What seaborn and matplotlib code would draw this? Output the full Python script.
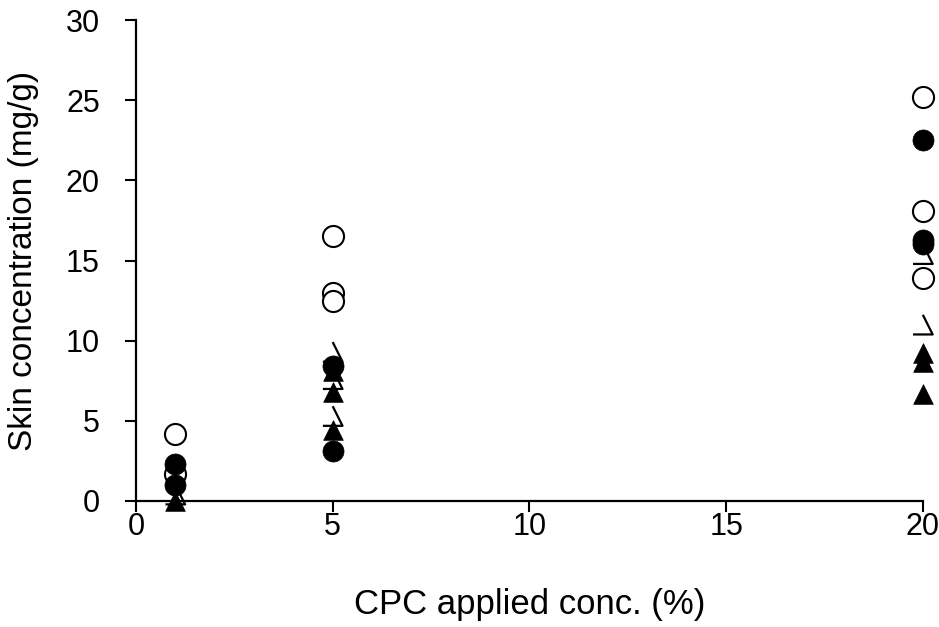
import numpy as np
import pandas as pd
import matplotlib
matplotlib.use("Agg")
import matplotlib.pyplot as plt
from matplotlib.path import Path
import seaborn as sns

# Applied CPC concentration (%) and measured skin concentration (mg/g)
open_circle_x = [1, 1, 5, 5, 5, 20, 20, 20]
open_circle_y = [4.2, 1.7, 16.5, 13.0, 12.5, 25.2, 18.1, 13.9]

filled_circle_x = [1, 1, 5, 5, 20, 20, 20]
filled_circle_y = [2.3, 1.0, 8.4, 3.1, 22.5, 16.3, 16.0]

open_triangle_x = [1, 5, 5, 5, 20, 20]
open_triangle_y = [0.4, 9.3, 7.6, 5.3, 15.4, 11.0]

filled_triangle_x = [1, 5, 5, 5, 20, 20, 20]
filled_triangle_y = [0.0, 8.1, 6.8, 4.4, 9.2, 8.7, 6.7]

x_ticks = [0, 5, 10, 15, 20]
y_ticks = [0, 5, 10, 15, 20, 25, 30]

frames = []
for name, xs, ys in [
    ("open_triangle", open_triangle_x, open_triangle_y),
    ("open_circle", open_circle_x, open_circle_y),
    ("filled_triangle", filled_triangle_x, filled_triangle_y),
    ("filled_circle", filled_circle_x, filled_circle_y),
]:
    frames.append(pd.DataFrame({"conc": xs, "skin": ys, "group": name}))
data = pd.concat(frames, ignore_index=True)

sns.set_theme(style="white")
plt.rcParams["font.family"] = ["Liberation Sans", "DejaVu Sans"]

fig = plt.figure(figsize=(9.39, 6.27), dpi=100)
ax = fig.add_axes([0.1448, 0.201, 0.838, 0.767])

# open triangle drawn with only its right side and base
half_open_tri = Path([(0, 1), (1, -1), (-1, -1)],
                     [Path.MOVETO, Path.LINETO, Path.LINETO])

styles = {
    "open_triangle": dict(marker=half_open_tri, facecolor="none",
                          edgecolor="black", linewidth=1.6, s=200),
    "open_circle": dict(marker="o", facecolor="white",
                        edgecolor="black", linewidth=1.5, s=230),
    "filled_triangle": dict(marker="^", color="black",
                            edgecolor="black", linewidth=0.5, s=200),
    "filled_circle": dict(marker="o", color="black",
                          edgecolor="black", linewidth=0.5, s=230),
}

for name in ["open_triangle", "open_circle", "filled_triangle", "filled_circle"]:
    sub = data[data["group"] == name]
    sns.scatterplot(data=sub, x="conc", y="skin", ax=ax, legend=False,
                    clip_on=False, zorder=3, **styles[name])

ax.set_xlim(0, 20)
ax.set_ylim(0, 30)
ax.set_xticks(x_ticks)
ax.set_yticks(y_ticks)
ax.set_xticklabels([str(t) for t in x_ticks])
ax.set_yticklabels([str(t) for t in y_ticks])

for side in ["top", "right"]:
    ax.spines[side].set_visible(False)
for side in ["left", "bottom"]:
    ax.spines[side].set_color("black")
    ax.spines[side].set_linewidth(1.6)

ax.tick_params(axis="both", direction="out", length=8, width=1.5,
               color="black", labelsize=22, labelcolor="black",
               left=True, bottom=True)
ax.tick_params(axis="y", pad=18)
ax.tick_params(axis="x", pad=0)

ax.set_xlabel("CPC applied conc. (%)", fontsize=25, color="black", labelpad=33)
ax.set_ylabel("Skin concentration (mg/g)", fontsize=24, color="black", labelpad=19)

fig.savefig("out.png", dpi=100)
